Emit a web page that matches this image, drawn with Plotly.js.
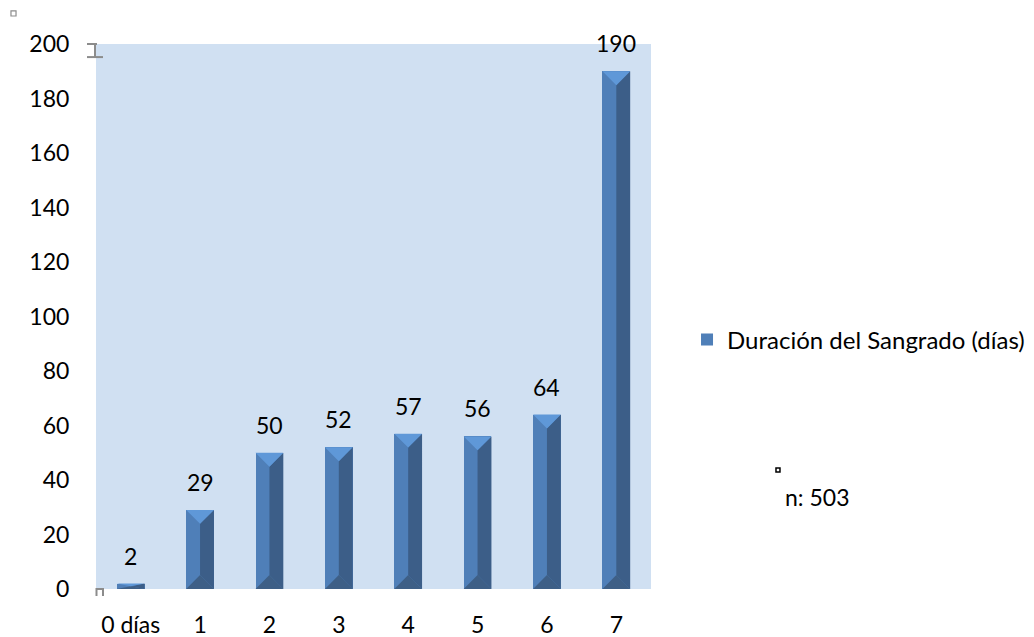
<!DOCTYPE html>
<html>
<head>
<meta charset="utf-8">
<script src="https://cdn.plot.ly/plotly-3.0.1.min.js"></script>
<style>
  html, body { margin: 0; padding: 0; background: #ffffff; }
  #chart { width: 1034px; height: 637px; }
</style>
</head>
<body>
<div id="chart"></div>
<script>
// Bleeding duration (days) and number of cases
const categories = ["0 días", "1", "2", "3", "4", "5", "6", "7"];
const counts = [2, 29, 50, 52, 57, 56, 64, 190];
const seriesName = "Duración del Sangrado (días)";
const sampleNote = "n: 503";

// Bevelled column geometry (data units)
const barWidth = 0.4;
const bevel = 5.1;

const xs = categories.map((_, i) => i);

// Right face, top and bottom bevels of each column as closed polygons
function faces() {
  const top = { x: [], y: [] }, right = { x: [], y: [] }, bottom = { x: [], y: [] };
  const push = (f, pts) => {
    pts.forEach(p => { f.x.push(p[0]); f.y.push(p[1]); });
    f.x.push(pts[0][0]); f.y.push(pts[0][1]);
    f.x.push(null); f.y.push(null);
  };
  xs.forEach((x, i) => {
    const v = counts[i];
    const d = Math.min(bevel, v / 2);
    const l = x - barWidth / 2, r = x + barWidth / 2;
    push(right, [[r, 0], [r, v], [x, v - d], [x, d]]);
    push(top, [[l, v], [r, v], [x, v - d]]);
    push(bottom, [[l, 0], [r, 0], [x, d]]);
  });
  return { top, right, bottom };
}
const f = faces();

const poly = (face, color) => ({
  type: "scatter", mode: "lines", fill: "toself",
  x: face.x, y: face.y, fillcolor: color,
  line: { width: 0, color: color },
  hoverinfo: "skip", showlegend: false
});

const traces = [
  {
    type: "bar", x: xs, y: counts, width: barWidth, name: seriesName,
    marker: { color: "#4F7FB8", line: { width: 0 } },
    hoverinfo: "skip", showlegend: true
  },
  poly(f.right, "#3C5E88"),
  poly(f.bottom, "#3E5F86"),
  poly(f.top, "#5F98D8")
];

const fontFamily = "Lato, Carlito, Calibri, sans-serif";
const labelFont = { family: fontFamily, size: 23, color: "#000000" };
const legendFont = { family: fontFamily, size: 24, color: "#000000" };

const annotations = xs.map((x, i) => ({
  x: x, y: counts[i], xref: "x", yref: "y",
  text: String(counts[i]), showarrow: false,
  yanchor: "middle", yshift: 28, font: labelFont
}));
annotations.push({
  xref: "paper", yref: "paper", x: 1.2378, y: 0.1688,
  xanchor: "left", yanchor: "middle",
  text: sampleNote, showarrow: false, font: labelFont
});

const grey = "#8C8C8C";
const layout = {
  width: 1034, height: 637,
  margin: { l: 96, r: 383, t: 44, b: 48, autoexpand: false },
  paper_bgcolor: "#ffffff",
  plot_bgcolor: "#D0E0F2",
  font: labelFont,
  bargap: 0,
  xaxis: {
    range: [-0.5, 7.5], tickmode: "array", tickvals: xs, ticktext: categories,
    showgrid: false, zeroline: false, showline: false,
    ticks: "outside", ticklen: 15, tickcolor: "rgba(0,0,0,0)",
    tickfont: labelFont, fixedrange: true
  },
  yaxis: {
    range: [0, 200], tickmode: "linear", tick0: 0, dtick: 20,
    showgrid: false, zeroline: false, showline: false,
    ticks: "outside", ticklen: 21, tickcolor: "rgba(0,0,0,0)",
    tickfont: labelFont, fixedrange: true
  },
  showlegend: true,
  legend: {
    x: 1.0649, y: 0.457, xanchor: "left", yanchor: "middle",
    font: legendFont, bgcolor: "rgba(0,0,0,0)", itemwidth: 30
  },
  annotations: annotations,
  shapes: [
    // small selection markers
    { type: "rect", xref: "paper", yref: "paper", x0: -0.1532, x1: -0.1441, y0: 1.0514, y1: 1.0606,
      line: { color: grey, width: 1.2 }, fillcolor: "rgba(0,0,0,0)" },
    { type: "rect", xref: "paper", yref: "paper", x0: 1.2252, x1: 1.2324, y0: 0.2147, y1: 0.222,
      line: { color: "#000000", width: 1.5 }, fillcolor: "rgba(0,0,0,0)" },
    // I-beam handle at the top of the value axis
    { type: "line", xref: "paper", yref: "paper", x0: -0.0162, x1: 0.0018, y0: 1.0, y1: 1.0,
      line: { color: grey, width: 2 } },
    { type: "line", xref: "paper", yref: "paper", x0: -0.0018, x1: -0.0018, y0: 1.0, y1: 0.976,
      line: { color: grey, width: 2 } },
    { type: "line", xref: "paper", yref: "paper", x0: -0.0162, x1: 0.0126, y0: 0.976, y1: 0.976,
      line: { color: grey, width: 2 } },
    // handle at the origin
    { type: "path", xref: "paper", yref: "paper",
      path: "M 0.0009 -0.0128 L 0.0009 0.0 L 0.0126 0.0 L 0.0126 -0.0128",
      line: { color: grey, width: 2 }, fillcolor: "rgba(0,0,0,0)" }
  ]
};

Plotly.newPlot("chart", traces, layout, { displayModeBar: false, staticPlot: true });
</script>
</body>
</html>
